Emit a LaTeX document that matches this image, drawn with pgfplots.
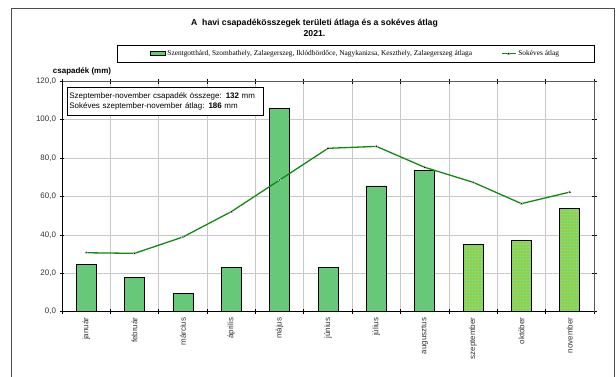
\documentclass[border=0pt]{standalone}
\usepackage{pgfplots}
\pgfplotsset{compat=1.18}
\usepackage{fontspec}
\setmainfont{Liberation Sans}
\newfontfamily\legfont{Liberation Serif}
\usetikzlibrary{patterns}

\definecolor{barA}{HTML}{66C878}
\definecolor{barB}{HTML}{92D050}
\definecolor{lineG}{HTML}{108A14}
\definecolor{gridG}{HTML}{C8C8C8}
\definecolor{tickT}{HTML}{333333}

\pgfplotsset{
  barlegend/.style={legend image code/.code={\draw[fill=barA, draw=black, line width=0.5bp] (0bp,-2bp) rectangle (15bp,2bp);}},
  linelegend/.style={legend image code/.code={\draw[##1, mark repeat=2, mark phase=2] plot coordinates {(0bp,0bp)(7bp,0bp)(14bp,0bp)};}},
}

\begin{document}
\begin{tikzpicture}[x=1bp,y=1bp]
\begin{axis}[
  at={(0,0)}, anchor=south west,
  scale only axis, width=532bp, height=230.4bp,
  xmin=-0.5, xmax=10.5, ymin=0, ymax=120,
  xtick={0,...,10},
  xticklabels={január,február,március,április,május,június,július,augusztus,szeptember,október,november},
  xticklabel style={rotate=90, anchor=east, font=\fontsize{8}{9}\selectfont, color=tickT},
  major x tick style={draw=none},
  minor xtick={-0.5,0.5,...,10.5},
  xminorgrids,
  ytick={0,20,...,120},
  ymajorgrids,
  grid style={gridG, line width=0.8bp},
  minor grid style={gridG, line width=0.8bp},
  tick align=center,
  major tick length=5bp, minor tick length=5bp,
  tick style={black, line width=0.8bp},
  yticklabel style={font=\fontsize{8}{9}\selectfont, color=tickT,
    /pgf/number format/.cd, fixed, fixed zerofill, precision=1, use comma, assume math mode=true},
  axis line style={draw=black!65, line width=0.9bp},
  legend columns=2,
  legend style={at={(rel axis cs:0.5517,1.12)}, anchor=center, draw=none, fill=none,
    font=\legfont\fontsize{7.4}{8.4}\selectfont,
    /tikz/every even column/.append style={column sep=27bp}},
]
% havi csapadékösszegek (január–augusztus)
\addplot[ybar, bar width=20bp, bar shift=0pt, fill=barA, draw=black, line width=0.8bp, barlegend]
  coordinates {(0,24.5)(1,17.9)(2,9.6)(3,23.1)(4,105.7)(5,23.1)(6,65.5)(7,73.8)};
\addlegendentry{Szentgotthárd, Szombathely, Zalaegerszeg, Iklódbördőce, Nagykanizsa, Keszthely, Zalaegerszeg átlaga}
% szeptember–november
\addplot[ybar, bar width=20bp, bar shift=0pt, fill=barB, draw=black, line width=0.8bp, forget plot,
  postaction={pattern=dots, pattern color=cyan!70}]
  coordinates {(8,35.1)(9,37.3)(10,53.9)};
% sokéves átlag
\addplot[lineG, line width=1.3bp, mark=triangle*, mark size=1.7bp,
  mark options={fill=black, draw=white, line width=0.3bp}, linelegend]
  coordinates {(0,30.7)(1,30.4)(2,38.9)(3,52.1)(4,68.6)(5,85.1)(6,86.1)(7,75.2)(8,67.4)(9,56.3)(10,62.3)};
\addlegendentry{Sokéves átlag}
\draw[black, line width=1.3bp] (rel axis cs:0,1) -- (rel axis cs:0,0) -- (rel axis cs:1,0);
\end{axis}

% keret, cím, jelmagyarázat doboza
\draw[black!70, line width=0.8bp] (-51,-90) rectangle (552,303.2);
\node[font=\bfseries\fontsize{8.7}{11.5}\selectfont, align=center] at (252.5,284) {A\ \ havi csapadékösszegek területi átlaga és a sokéves átlag\\2021.};
\draw[black, line width=0.8bp] (55,249.7) rectangle (532,266.7);
\node[font=\bfseries\fontsize{8}{9}\selectfont] at (20,240.7) {csapadék (mm)};
\node[draw=black, line width=0.8bp, fill=white, anchor=north west, text width=192bp, inner xsep=2bp, inner ysep=5bp,
  align=left, font=\fontsize{8}{10.6}\selectfont] at (5,224.7)
  {Szeptember-november csapadék összege: \textbf{132} mm\\Sokéves szeptember-november átlag: \textbf{186} mm};

\pgfresetboundingbox
\path (-62,-64.3) rectangle (554,311.7);
\end{tikzpicture}
\end{document}
